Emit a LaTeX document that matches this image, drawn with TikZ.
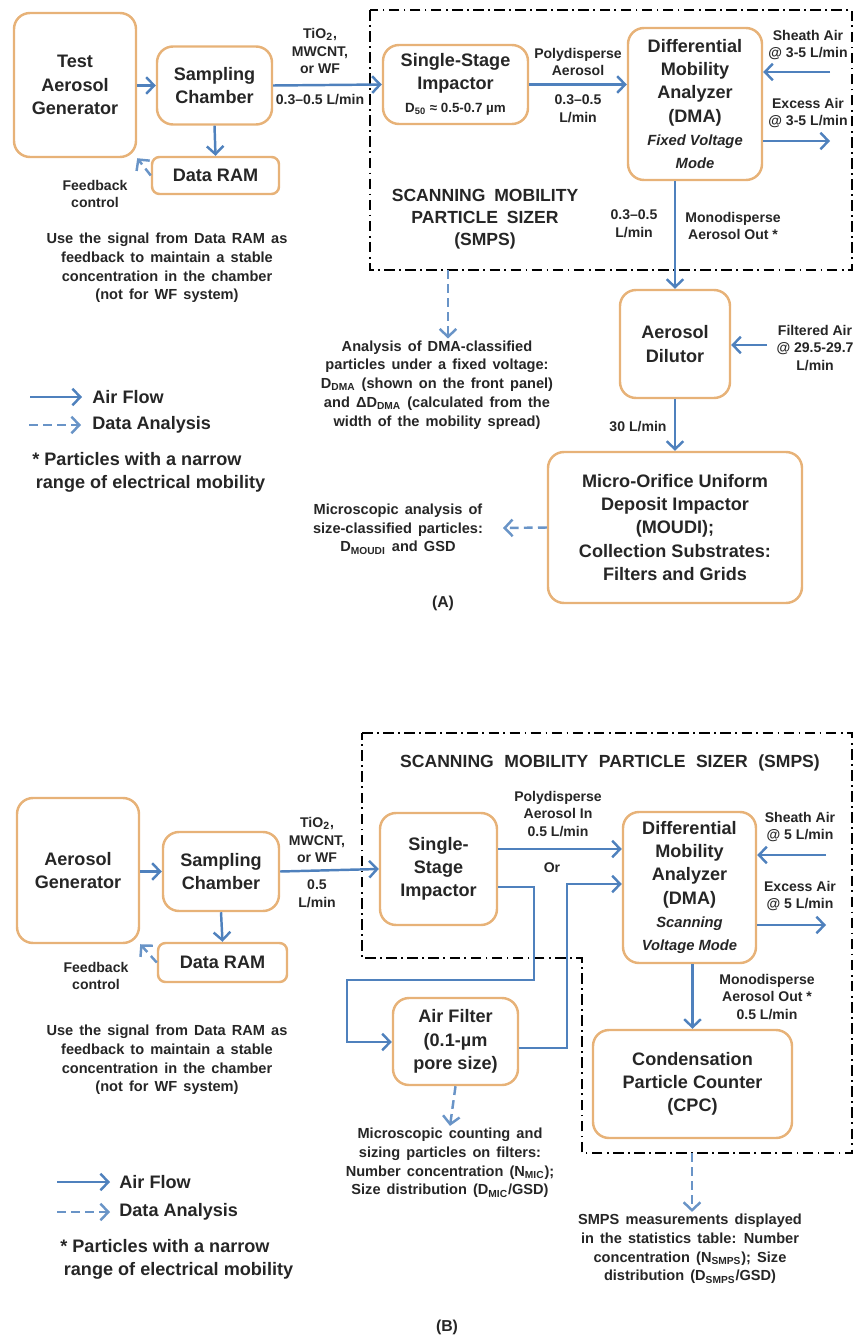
\documentclass[tikz,border=0pt]{standalone}
\usepackage{fontspec}
\setmainfont{Liberation Sans}
\usetikzlibrary{arrows.meta}
\definecolor{boxline}{RGB}{231,178,120}
\definecolor{flowblue}{RGB}{79,129,189}
\definecolor{txt}{RGB}{38,38,38}
\newcommand{\dsub}[1]{{\fontsize{7.6}{9}\selectfont #1}}
\newcommand{\modeline}[1]{{\fontsize{8.4}{10}\selectfont\itshape #1}}
\newcommand{\notefont}{\fontsize{8.3}{10.7}\selectfont\bfseries\spaceskip=0.42em plus 0.1em\relax}
\newcommand{\titlefontA}{\fontsize{10}{12.4}\selectfont\bfseries\spaceskip=0.5em\relax}
\newcommand{\titlefontB}{\fontsize{10}{12.4}\selectfont\bfseries\spaceskip=0.6em\relax}
\tikzset{
  boxdim/.style 2 args={minimum width=#1*0.02cm, minimum height=#2*0.02cm},
  unit/.style={draw=boxline, line width=1.4pt, rounded corners=0.32cm, align=center,
    font=\fontsize{10.3}{13.2}\selectfont\bfseries, text=txt, inner sep=0pt},
  lbl/.style={align=center, font=\fontsize{8}{10.2}\selectfont\bfseries, text=txt, inner sep=1pt},
  note/.style={lbl, font=\notefont},
  legend/.style={align=left, font=\fontsize{10.3}{13}\selectfont\bfseries, text=txt, inner sep=0pt, anchor=west},
  flow/.style={draw=flowblue, line width=1.4pt, -{Straight Barb[length=4.5pt,width=9.5pt,line width=1.4pt]}},
  data/.style={flow, draw=flowblue!85, dash pattern=on 5pt off 3pt},
  smps/.style={line width=1.3pt, dash pattern=on 6pt off 2.5pt on 1pt off 2.5pt}
}

\begin{document}
\begin{tikzpicture}[x=0.02cm,y=-0.02cm]
	%%%%% START %%%%%
	\useasboundingbox (0,0) rectangle (856,1338);

	%%%%% (A) %%%%%
	\draw[smps] (370,10) rectangle (852,270);
	\coordinate (smpsAout) at (448,270);

	\node[unit, boxdim={122}{144}] (genA) at (75,85) {Test\\Aerosol\\Generator};
	\node[unit, boxdim={115}{78}] (sampA) at (214.5,85.5) {Sampling\\Chamber};
	\node[unit, boxdim={127}{37}, rounded corners=0.15cm] (ramA) at (215.5,175.5) {Data RAM};
	\node[unit, boxdim={145}{79}] (impA) at (455.5,84.5) {Single-Stage\\Impactor\\\dsub{D\textsubscript{50} ≈ 0.5-0.7 µm}};
	\node[unit, boxdim={134}{152}] (dmaA) at (695,104) {Differential\\Mobility\\Analyzer\\(DMA)\\\modeline{Fixed Voltage}\\\modeline{Mode}};
	\node[unit, boxdim={110}{108}] (dilA) at (675,344) {Aerosol\\Dilutor};
	\node[unit, boxdim={254}{151}] (moudiA) at (675,527.5) {Micro-Orifice Uniform\\Deposit Impactor\\(MOUDI);\\Collection Substrates:\\Filters and Grids};

	\node[lbl] (tioA) at (320,51) {TiO\textsubscript{2},\\MWCNT,\\or WF};
	\node[lbl] (rateA) at (320,100) {0.3–0.5 L/min};
	\node[lbl] (polyA) at (578,62) {Polydisperse\\Aerosol};
	\node[lbl] (polyrateA) at (578,108.5) {0.3–0.5\\L/min};
	\node[lbl] (sheathA) at (808,45) {Sheath Air\\@ 3-5 L/min};
	\node[lbl] (excessA) at (808,113) {Excess Air\\@ 3-5 L/min};
	\node[legend, anchor=center, align=center, font=\titlefontA] (titleA) at (485,219) {SCANNING MOBILITY\\PARTICLE SIZER\\(SMPS)};
	\node[lbl] (monorateA) at (634,224) {0.3–0.5\\L/min};
	\node[lbl] (monoA) at (733,226) {Monodisperse\\Aerosol Out *};
	\node[lbl] (filtairA) at (815,348) {Filtered Air\\@ 29.5-29.7\\L/min};
	\node[lbl] (thirtyA) at (638,427) {30 L/min};
	\node[note] (anaA) at (437,385) {Analysis of DMA-classified\\particles under a fixed voltage:\\D\textsubscript{DMA} (shown on the front panel)\\and ΔD\textsubscript{DMA} (calculated from the\\width of the mobility spread)};
	\node[note] (micA) at (398,529) {Microscopic analysis of\\size-classified particles:\\D\textsubscript{MOUDI} and GSD};
	\node[lbl] (fbA) at (95,194) {Feedback\\control};
	\node[note] (sigA) at (167,268) {Use the signal from Data RAM as\\feedback to maintain a stable\\concentration in the chamber\\(not for WF system)};
	\node[lbl, font=\fontsize{9}{11}\selectfont\bfseries] (capA) at (443,603) {(A)};

	\draw[flow] (genA.east |- sampA) -- (sampA.west);
	\draw[flow] (sampA.south) -- (ramA.north);
	\draw[data] (ramA.west) -- (genA.south east);
	\draw[flow] (sampA.east) -- (impA.west);
	\draw[flow] (impA.east) -- (impA.east -| dmaA.west);
	\coordinate (sheathAin) at (830,72);
	\coordinate (excessAout) at (830,141);
	\draw[flow] (sheathAin) -- (sheathAin -| dmaA.east);
	\draw[flow] (excessAout -| dmaA.east) -- (excessAout);
	\draw[flow] (dmaA.south -| dilA) -- (dilA.north);
	\coordinate (filtAin) at (767,345);
	\draw[flow] (filtAin) -- (filtAin -| dilA.east);
	\draw[flow] (dilA.south) -- (moudiA.north);
	\draw[data] (moudiA.west) -- (503,528);
	\draw[data] (smpsAout) -- (smpsAout |- anaA.north);

	\draw[flow] (30,397) -- (82,397);
	\node[legend] (airA) at (92,397) {Air Flow};
	\draw[data] (29,425) -- (81,425);
	\node[legend] (dataA) at (92,425) {Data Analysis};
	\node[legend] (starA) at (32,472) {* Particles with a narrow\\\hspace{2pt}range of electrical mobility};

	%%%%% (B) %%%%%
	\draw[smps] (362,733) -- (852,733) -- (852,1153) -- (582,1153) -- (582,958) -- (362,958) -- cycle;
	\coordinate (smpsBout) at (692,1153);

	\node[unit, boxdim={122}{145}] (genB) at (78,870.5) {Aerosol\\Generator};
	\node[unit, boxdim={116}{79}] (sampB) at (221,871.5) {Sampling\\Chamber};
	\node[unit, boxdim={129}{39}, rounded corners=0.15cm] (ramB) at (222.5,962.5) {Data RAM};
	\node[unit, boxdim={117}{112}] (impB) at (438.5,869) {Single-\\Stage\\Impactor};
	\node[unit, boxdim={133}{151}] (dmaB) at (689.5,887.5) {Differential\\Mobility\\Analyzer\\(DMA)\\\modeline{Scanning}\\\modeline{Voltage Mode}};
	\node[unit, boxdim={125}{87}] (filtB) at (455.5,1041.5) {Air Filter\\(0.1-µm\\pore size)};
	\node[unit, boxdim={199}{108}] (cpcB) at (692.5,1084) {Condensation\\Particle Counter\\(CPC)};

	\node[legend, anchor=center, font=\titlefontB] (titleB) at (610,763) {SCANNING MOBILITY PARTICLE SIZER (SMPS)};
	\node[lbl] (tioB) at (317,840) {TiO\textsubscript{2},\\MWCNT,\\or WF};
	\node[lbl] (rateB) at (317,894) {0.5\\L/min};
	\node[lbl] (polyB) at (558,814) {Polydisperse\\Aerosol In\\0.5 L/min};
	\node[lbl] (orB) at (552,868) {Or};
	\node[lbl] (sheathB) at (800,827) {Sheath Air\\@ 5 L/min};
	\node[lbl] (excessB) at (800,896) {Excess Air\\@ 5 L/min};
	\node[lbl] (monoB) at (767,997) {Monodisperse\\Aerosol Out *\\0.5 L/min};
	\node[note] (micB) at (450,1163) {Microscopic counting and\\sizing particles on filters:\\Number concentration (N\textsubscript{MIC});\\Size distribution (D\textsubscript{MIC}/GSD)};
	\node[note] (measB) at (690,1249) {SMPS measurements displayed\\in the statistics table: Number\\concentration (N\textsubscript{SMPS}); Size\\distribution (D\textsubscript{SMPS}/GSD)};
	\node[lbl] (fbB) at (96,976) {Feedback\\control};
	\node[note] (sigB) at (167,1060) {Use the signal from Data RAM as\\feedback to maintain a stable\\concentration in the chamber\\(not for WF system)};
	\node[lbl, font=\fontsize{9}{11}\selectfont\bfseries] (capB) at (447,1327) {(B)};

	\draw[flow] (genB.east |- sampB) -- (sampB.west);
	\draw[flow] (sampB.south) -- (ramB.north);
	\draw[data] (ramB.west) -- (genB.south east);
	\draw[flow] (sampB.east) -- (impB.west);
	\draw[flow] ([yshift=0.4cm]impB.east) -- ([yshift=0.4cm]impB.east -| dmaB.west);
	\coordinate (bendB) at (534,980);
	\coordinate (feedB) at (347,1042);
	\coordinate (backB) at (567,884);
	\draw[flow] ([yshift=-0.36cm]impB.east) -| (bendB) -| (feedB) -- (feedB -| filtB.west);
	\draw[flow] ([yshift=-0.13cm]filtB.east) -| (backB) -- (backB -| dmaB.west);
	\coordinate (sheathBin) at (826,855);
	\coordinate (excessBout) at (826,925);
	\draw[flow] (sheathBin) -- (sheathBin -| dmaB.east);
	\draw[flow] (excessBout -| dmaB.east) -- (excessBout);
	\draw[flow] (dmaB.south -| cpcB) -- (cpcB.north);
	\draw[data] (smpsBout) -- (smpsBout |- measB.north);
	\draw[data] (filtB.south) -- (micB.north);

	\draw[flow] (57,1182) -- (110,1182);
	\node[legend] (airB) at (119,1182) {Air Flow};
	\draw[data] (57,1212) -- (110,1212);
	\node[legend] (dataB) at (119,1212) {Data Analysis};
	\node[legend] (starB) at (60,1259) {* Particles with a narrow\\\hspace{2pt}range of electrical mobility};
	%%%%% END %%%%%
\end{tikzpicture}
\end{document}
